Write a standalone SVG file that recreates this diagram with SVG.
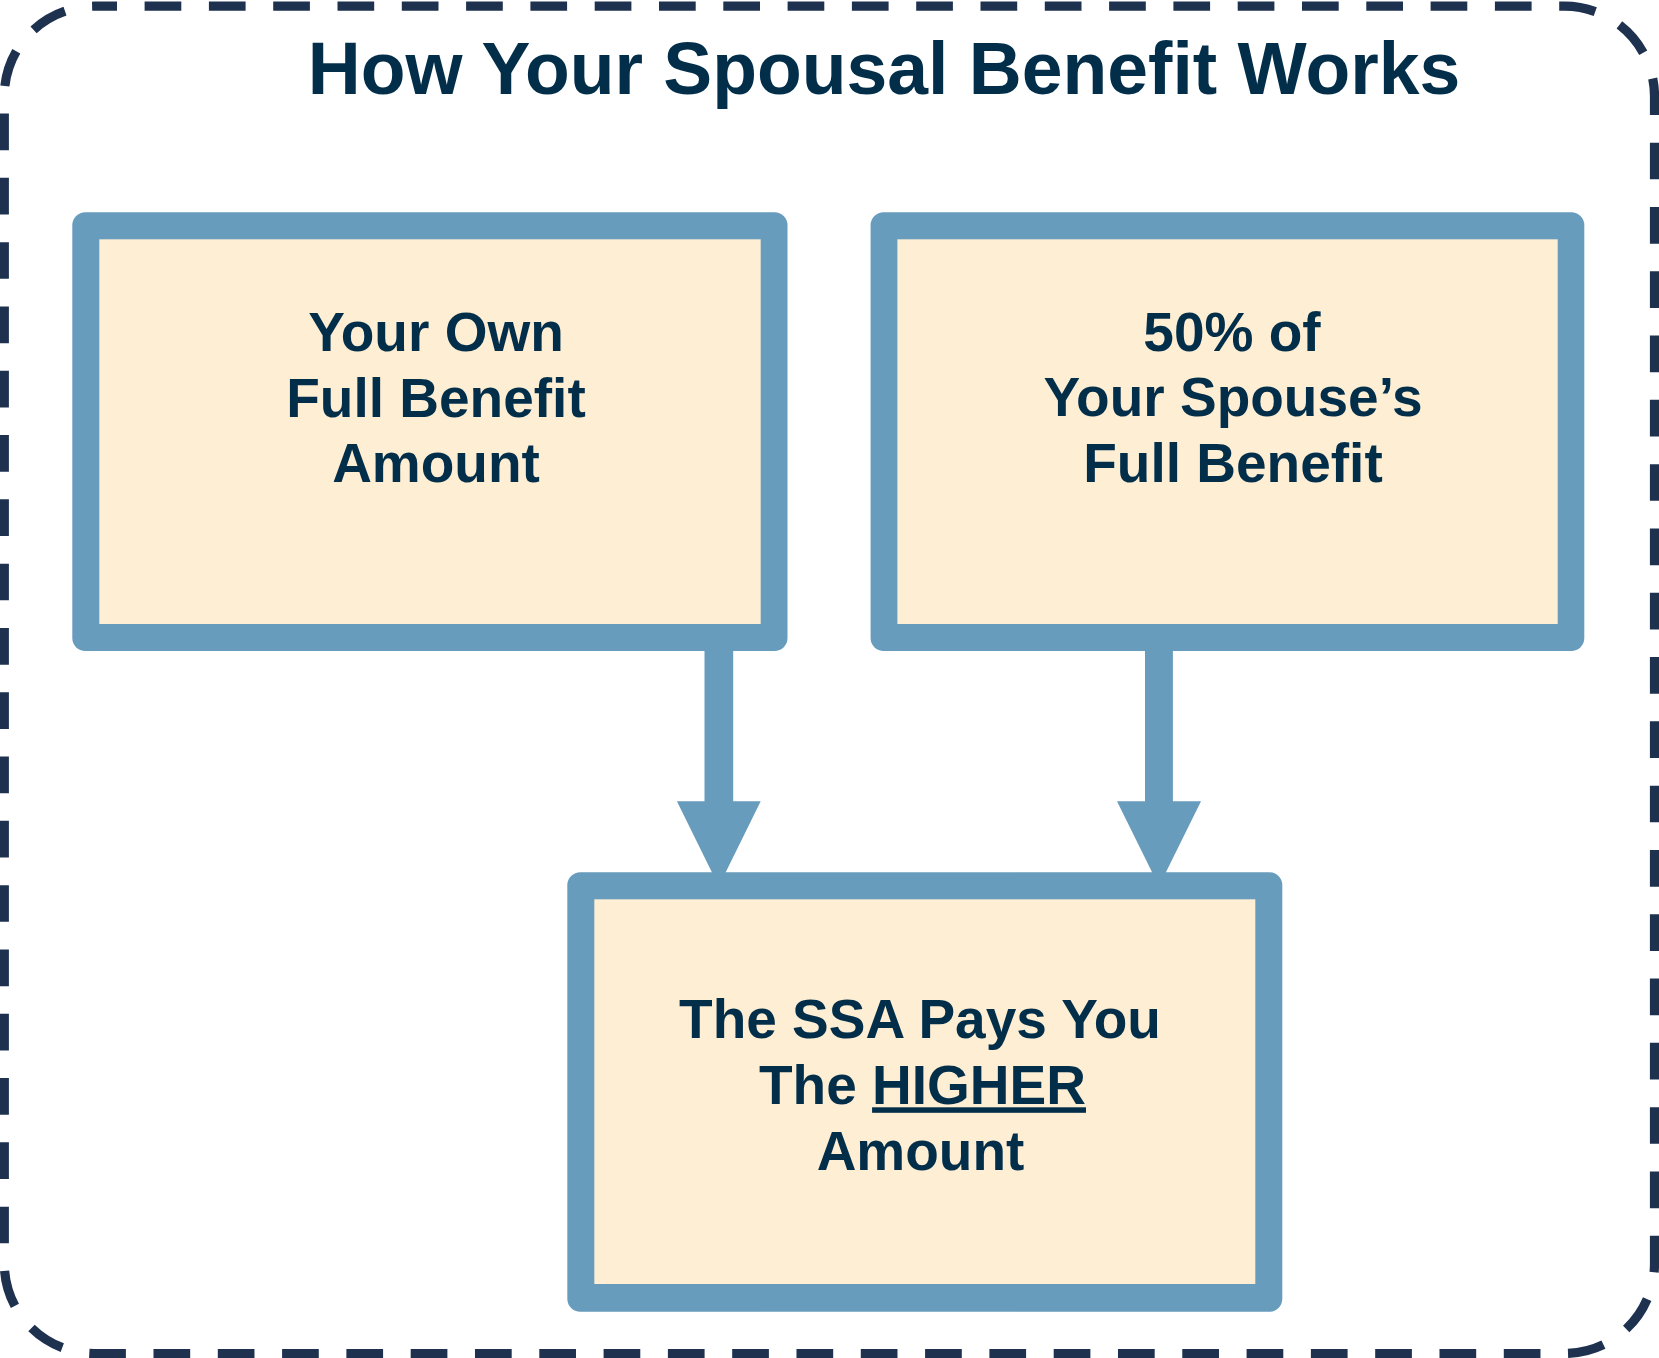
<svg xmlns="http://www.w3.org/2000/svg" width="1659" height="1358" viewBox="0 0 1659 1358">
<style>
.frame{fill:none;stroke:#1E3250;stroke-width:9.2;stroke-dasharray:36.7 27.6;stroke-dashoffset:14}
.outer{fill:#679CBD}
.inner{fill:#FDEED4}
.arrow{fill:#679CBD}
text{font-family:"Liberation Sans",Arial,sans-serif;font-weight:bold;fill:#022E4A;text-anchor:middle}
.title{font-size:73.3px}
.lbl{font-size:55px}
</style>
<rect width="1659" height="1358" fill="#FFFFFF"/>
<rect class="frame" x="4.3" y="6.2" width="1650.2" height="1347.3" rx="90" ry="90"/>
<text id="title" class="title" x="884" y="94">How Your Spousal Benefit Works</text>
<g id="connectors">
<polygon class="arrow" points="704.5,640 733.2,640 733.2,801.3 760.7,801.3 718.8,886.3 676.9,801.3 704.5,801.3"/>
<polygon class="arrow" points="1145,640 1172.9,640 1172.9,801.3 1201,801.3 1159,886.3 1117,801.3 1145,801.3"/>
</g>
<g id="node-own">
<rect class="outer" x="72.3" y="212.3" width="715.2" height="438.7" rx="13"/>
<rect class="inner" x="99.3" y="239.3" width="661.4" height="384.7"/>
<text class="lbl" x="436" y="350.7">Your Own</text>
<text class="lbl" x="436" y="416.7">Full Benefit</text>
<text class="lbl" x="436" y="481.7">Amount</text>
</g>
<g id="node-spouse">
<rect class="outer" x="870.6" y="212.3" width="713.7" height="438.7" rx="13"/>
<rect class="inner" x="897.4" y="239.3" width="660.3" height="384.7"/>
<text class="lbl" x="1232" y="350.7">50% of</text>
<text class="lbl" x="1233" y="416">Your Spouse’s</text>
<text class="lbl" x="1233" y="481.7">Full Benefit</text>
</g>
<g id="node-result">
<rect class="outer" x="567.3" y="872.3" width="715" height="439.4" rx="13"/>
<rect class="inner" x="594.3" y="899.3" width="661" height="384.7"/>
<text class="lbl" x="920" y="1038.3">The SSA Pays You</text>
<text class="lbl" x="922.5" y="1104.3">The <tspan text-decoration="underline">HIGHER</tspan></text>
<text class="lbl" x="920.5" y="1170">Amount</text>
</g>
</svg>
